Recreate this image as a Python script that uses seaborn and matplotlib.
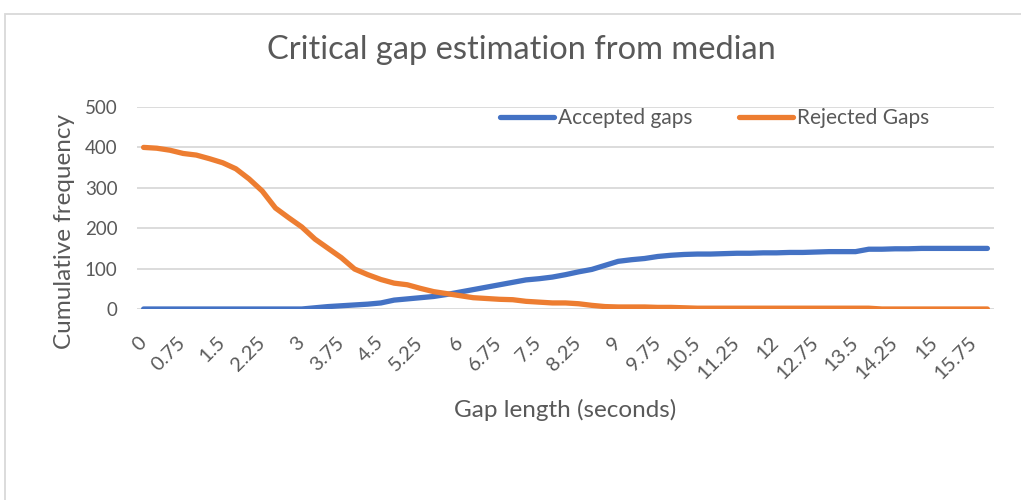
import matplotlib
matplotlib.use("Agg")
import matplotlib.pyplot as plt
from matplotlib.patches import Rectangle
import seaborn as sns
import pandas as pd

# Gap length categories (seconds)
gap_length = [
    "0", "0.25", "0.5", "0.75", "1", "1.25", "1.5", "1.75", "2", "2.25",
    "2.5", "2.75", "3", "3.25", "3.5", "3.75", "4", "4.25", "4.5", "4.75",
    "5", "5.25", "5.5", "5.75", "6", "6.25", "6.5", "6.75", "7", "7.25",
    "7.5", "7.75", "8", "8.25", "8.5", "8.75", "9", "9.25", "9.5", "9.75",
    "10", "10.25", "10.5", "10.75", "11", "11.25", "11.5", "11.75", "12", "12.25",
    "12.5", "12.75", "13", "13.25", "13.5", "13.75", "14", "14.25", "14.5", "14.75",
    "15", "15.25", "15.5", "15.75", "16",
]

accepted_gaps = [
    0, 0, 0, 0, 0, 0, 0, 0, 0, 0,
    0, 0, 0, 3, 6, 8, 10, 12, 15, 22,
    25, 28, 31, 36, 42, 48, 54, 60, 66, 72,
    75, 79, 85, 92, 98, 108, 118, 122, 125, 130,
    133, 135, 136, 136, 137, 138, 138, 139, 139, 140,
    140, 141, 142, 142, 142, 148, 148, 149, 149, 150,
    150, 150, 150, 150, 150,
]

rejected_gaps = [
    400, 398, 393, 385, 381, 372, 362, 347, 322, 292,
    250, 226, 203, 173, 150, 127, 99, 85, 73, 64,
    60, 51, 43, 38, 33, 28, 26, 24, 23, 19,
    17, 15, 15, 13, 9, 6, 5, 5, 5, 4,
    4, 3, 2, 2, 2, 2, 2, 2, 2, 2,
    2, 2, 2, 2, 2, 2, 0, 0, 0, 0,
    0, 0, 0, 0, 0,
]

series_names = ["Accepted gaps", "Rejected Gaps"]
series_colors = ["#4472C4", "#ED7D31"]

n = len(gap_length)
df = pd.DataFrame({
    "pos": list(range(n)) * 2,
    "value": accepted_gaps + rejected_gaps,
    "series": [series_names[0]] * n + [series_names[1]] * n,
})

sns.set_theme(style="white")
plt.rcParams["font.family"] = ["Lato", "DejaVu Sans"]

text_color = "#595959"
grid_color = "#D9D9D9"

fig = plt.figure(figsize=(10.21, 5.0), dpi=100)
ax = fig.add_axes([137 / 1021, 1 - 309 / 500, (994 - 137) / 1021, (309 - 107) / 500])

sns.lineplot(
    data=df, x="pos", y="value", hue="series",
    palette=dict(zip(series_names, series_colors)),
    linewidth=3.8, ax=ax, legend=False,
    solid_capstyle="round", solid_joinstyle="round",
)

ax.set_xlim(-0.5, n - 0.5)
ax.set_ylim(0, 500)
ax.set_yticks(range(0, 501, 100))
ax.yaxis.grid(True, color=grid_color, linewidth=1.3)
ax.set_axisbelow(True)
for s in ax.spines.values():
    s.set_visible(False)

tick_pos = list(range(0, n, 3))
ax.set_xticks(tick_pos)
ax.set_xticklabels([gap_length[i] for i in tick_pos], rotation=45,
                   ha="right", va="center", rotation_mode="anchor")
ax.tick_params(axis="x", length=0, pad=22, labelsize=14.5, labelcolor=text_color)
ax.tick_params(axis="y", length=0, pad=14, labelsize=13.5, labelcolor=text_color)

ax.set_xlabel("Gap length (seconds)", fontsize=17.5, color=text_color, labelpad=12)
ax.set_ylabel("Cumulative frequency", fontsize=17.5, color=text_color)
ax.yaxis.set_label_coords(-0.072, 0.385)

fig.text(521 / 1021, 1 - 50 / 500, "Critical gap estimation from median",
         ha="center", va="center", fontsize=23.5, color=text_color)

handles = [plt.Line2D([], [], color=c, linewidth=3.8, solid_capstyle="round")
           for c in series_colors]
ax.legend(handles, series_names, loc="center left",
          bbox_to_anchor=((500 - 137) / (994 - 137), (309 - 118) / (309 - 107)),
          ncol=2, frameon=False, fontsize=15, labelcolor=text_color,
          handlelength=2.6, handletextpad=0.2, columnspacing=2.2,
          borderaxespad=0, borderpad=0)

# chart-area border
fig.patches.append(Rectangle((5 / 1021, -0.1), 1.2, 1 - 14 / 500 + 0.1,
                             transform=fig.transFigure, fill=False,
                             edgecolor=grid_color, linewidth=1.3))

fig.savefig("out.png", dpi=100, facecolor="white")
